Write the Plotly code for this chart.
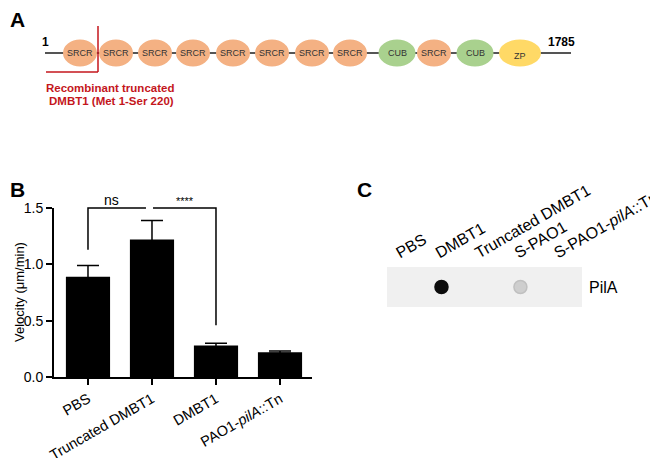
import plotly.graph_objects as go

# the page puts the plot 8 px in from the top-left corner of the window
OFF = 8
W, H = 658 - OFF, 458 - OFF
FONT = "Liberation Sans, Arial, sans-serif"

# ---- data ----
# panel A: domain architecture of DMBT1
domain_names = ["SRCR"] * 8 + ["CUB", "SRCR", "CUB", "ZP"]
first_res, last_res = "1", "1785"

# panel B: velocity
groups = ["PBS", "Truncated DMBT1", "DMBT1", "PAO1-<i>pilA</i>::Tn"]
velocity = [0.89, 1.22, 0.28, 0.22]
velocity_err = [0.10, 0.17, 0.02, 0.01]
sig_ns = ("ns", 0, 1.13)      # label, group index, bracket foot
sig_star = ("****", 2, 0.46)

# panel C: dot blot
lanes = ["PBS", "DMBT1", "Truncated DMBT1", "S-PAO1", "S-PAO1-<i>pilA</i>::Tn"]
pila_signal = [0.0, 1.0, 0.0, 0.15, 0.0]


def px(x):
    return (x - OFF) / W


def py(y):
    return 1 - (y - OFF) / H


def note(x, y, text, size, color="black", **kw):
    d = dict(x=px(x), y=py(y), xref="paper", yref="paper", text=text, showarrow=False,
             xanchor="center", yanchor="middle",
             font=dict(size=size, color=color, family=FONT))
    d.update(kw)
    return d


fig = go.Figure()
shapes = []
annotations = []

# ---- panel A (schematic layout) ----
dom_x = [80, 116, 155, 193, 233, 272, 312, 350, 397, 434, 475, 520]
dom_w = {"SRCR": 34, "CUB": 37, "ZP": 42}
dom_col = {"SRCR": "#F4B183", "CUB": "#A9D18E", "ZP": "#FFD966"}
line_y = 53

shapes.append(dict(type="line", xref="paper", yref="paper",
                   x0=px(45), x1=px(571), y0=py(line_y), y1=py(line_y),
                   line=dict(color="#555555", width=2)))
for name, cx in zip(domain_names, dom_x):
    hw = dom_w[name] / 2
    shapes.append(dict(type="circle", xref="paper", yref="paper",
                       x0=px(cx - hw), x1=px(cx + hw),
                       y0=py(line_y + 13.5), y1=py(line_y - 13.5),
                       fillcolor=dom_col[name], line=dict(width=0)))
    annotations.append(note(cx, line_y + (3 if name == "ZP" else 0), name, 9, "#333333"))

annotations.append(note(45, 42, "<b>%s</b>" % first_res, 12))
annotations.append(note(561, 42, "<b>%s</b>" % last_res, 12))

red = "#C4161C"
shapes.append(dict(type="line", xref="paper", yref="paper", x0=px(98), x1=px(98),
                   y0=py(26), y1=py(72), line=dict(color=red, width=1.5)))
shapes.append(dict(type="line", xref="paper", yref="paper", x0=px(46), x1=px(98),
                   y0=py(72), y1=py(72), line=dict(color=red, width=1.5)))
annotations.append(note(176, 88, "<b>Recombinant truncated</b>", 11.5, red, xanchor="right"))
annotations.append(note(176, 101, "<b>DMBT1 (Met 1-Ser 220)</b>", 11.5, red, xanchor="right"))

# panel letters
for letter, lx, ly in [("A", 17, 19), ("B", 17, 190), ("C", 364, 190)]:
    annotations.append(note(lx, ly, "<b>%s</b>" % letter, 21))

# ---- panel B ----
yb0, yb1 = py(377), py(208)


def yb(v):
    return yb0 + (yb1 - yb0) * v / 1.5


fig.add_trace(go.Bar(
    x=groups, y=velocity, width=0.69, marker=dict(color="black", line=dict(width=0)),
    error_y=dict(type="data", array=velocity_err, color="black", thickness=1.5, width=11),
    xaxis="x", yaxis="y", showlegend=False,
))

# significance brackets
label, gi, foot = sig_ns
shapes.append(dict(type="path", xref="x", yref="paper",
                   path="M %f,%f L %f,%f L %f,%f" % (gi, yb(foot), gi, yb(1.5), gi + 0.906, yb(1.5)),
                   line=dict(color="black", width=1.5)))
annotations.append(dict(x=gi + 0.37, y=1.5, xref="x", yref="y", xanchor="center", yanchor="bottom",
                        yshift=-2, text=label, showarrow=False,
                        font=dict(size=14, color="black", family=FONT)))
label, gi, foot = sig_star
shapes.append(dict(type="path", xref="x", yref="paper",
                   path="M %f,%f L %f,%f L %f,%f" % (1.016, yb(1.5), gi, yb(1.5), gi, yb(foot)),
                   line=dict(color="black", width=1.5)))
annotations.append(dict(x=(1.016 + gi) / 2, y=1.5, xref="x", yref="y", xanchor="center",
                        yanchor="bottom", yshift=-1, text=label, showarrow=False,
                        font=dict(size=11, color="black", family=FONT)))

annotations.append(note(19, 292, "Velocity (\u03bcm/min)", 13, textangle=-90))

# ---- panel C ----
def gray(s):
    s = min(s, 1.0)
    v = int(round(240 * (1 - s) + 12 * s))
    return "rgb(%d,%d,%d)" % (v, v, v)


fig.add_trace(go.Scatter(
    x=lanes, y=[0.5] * len(lanes), mode="markers",
    marker=dict(size=13, color=[gray(s) for s in pila_signal],
                line=dict(width=1.5, color=[gray(s * 1.4) for s in pila_signal])),
    xaxis="x3", yaxis="y3", showlegend=False, hoverinfo="skip",
))
shapes.append(dict(type="rect", xref="x3 domain", yref="y3 domain", x0=0, x1=1, y0=0, y1=1,
                   fillcolor="#F0F0F0", line=dict(width=0), layer="below"))

fig.update_layout(
    width=W, height=H,
    margin=dict(l=0, r=0, t=0, b=0),
    paper_bgcolor="white", plot_bgcolor="white",
    template="none",
    font=dict(family=FONT, color="black"),
    shapes=shapes, annotations=annotations,
    xaxis=dict(domain=[px(54), px(312)], range=[-0.531, 3.5], anchor="y",
               showline=True, linecolor="black", linewidth=2, showgrid=False,
               ticks="outside", ticklen=6, tickwidth=2, tickcolor="black",
               tickangle=-30, tickfont=dict(size=14.5, family=FONT), automargin=False,
               zeroline=False),
    yaxis=dict(domain=[yb0, yb1], range=[0, 1.5], anchor="x",
               showline=True, linecolor="black", linewidth=2, showgrid=False,
               ticks="outside", ticklen=6, tickwidth=2, tickcolor="black",
               tickvals=[0, 0.5, 1.0, 1.5], tickformat=".1f",
               tickfont=dict(size=14, family=FONT), automargin=False, zeroline=False),
    xaxis3=dict(domain=[px(387), px(582)], range=[-0.38, 4.56], anchor="y3",
                side="top", showline=False, showgrid=False, zeroline=False, ticks="",
                tickangle=-30, tickfont=dict(size=16, family=FONT), automargin=False,
                ticklabelstandoff=3, ticklabelshift=-6),
    yaxis3=dict(domain=[py(307), py(267)], range=[0, 1], anchor="x3", side="right",
                showline=False, showgrid=False, zeroline=False, ticks="",
                tickvals=[0.5], ticktext=["PilA"], tickfont=dict(size=16, family=FONT),
                automargin=False, ticklabelstandoff=6),
)

fig.write_html("out.html")
